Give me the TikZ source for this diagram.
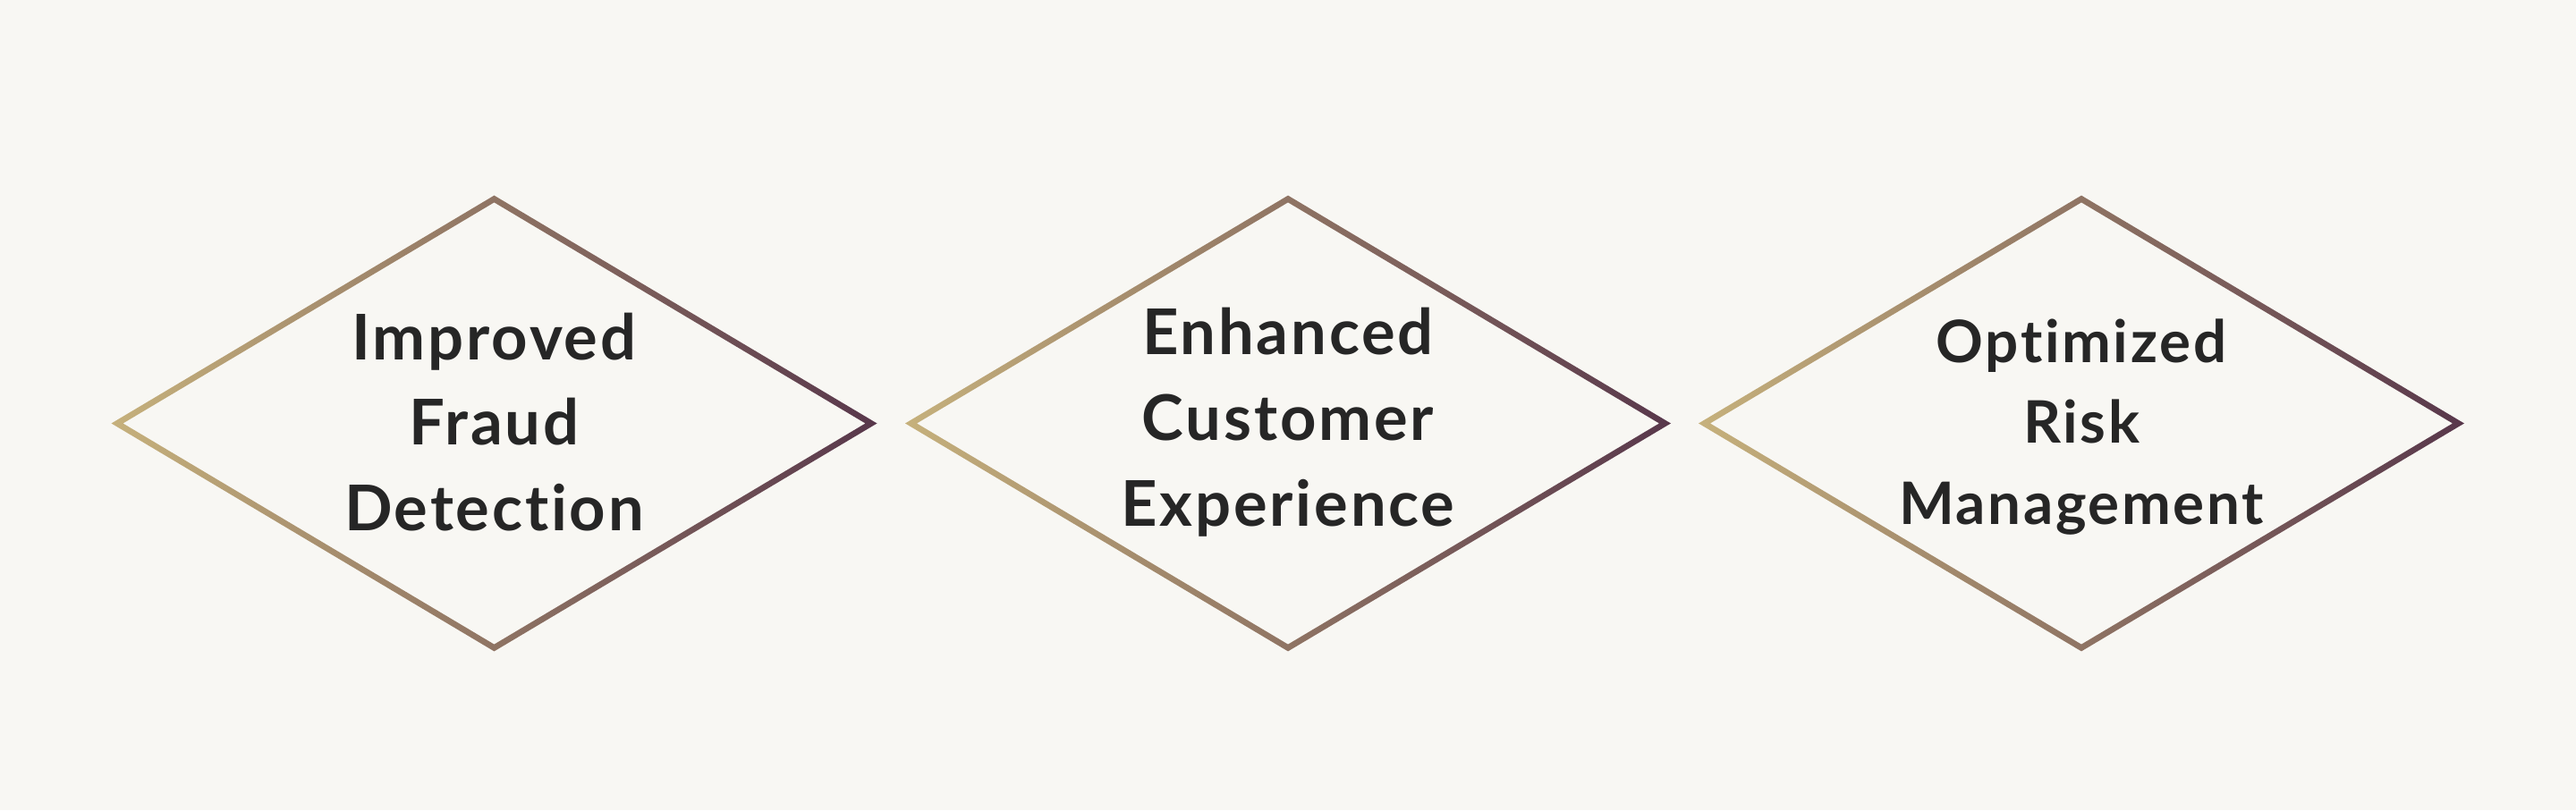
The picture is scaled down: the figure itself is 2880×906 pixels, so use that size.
\documentclass[tikz,border=0pt]{standalone}
\usepackage{fontspec}
\usetikzlibrary{calc}
\setmainfont{Lato}[UprightFont=* Bold, BoldFont=* Black]
\newfontfamily\lblfont{Lato}[UprightFont=* Bold, LetterSpace=4, RawFeature={-liga;-dlig;-clig}]
\definecolor{bgc}{HTML}{F8F7F3}
\definecolor{tanc}{HTML}{C6B17C}
\definecolor{plumc}{HTML}{58374B}
\definecolor{txtc}{HTML}{262626}
\tikzset{
  x=1pt, y=1pt,
  rim/.style={even odd rule, left color=tanc, right color=plumc, shading angle=90},
  lblA/.style={anchor=base, text=txtc, inner sep=0pt, font=\lblfont\fontsize{70.5}{80}\selectfont},
  lblB/.style={anchor=base, text=txtc, inner sep=0pt, font=\lblfont\fontsize{65.5}{75}\selectfont},
}
\begin{document}
\begin{tikzpicture}
\path[fill=bgc] (0,0) rectangle (2880,906);
\useasboundingbox (0,0) rectangle (2880,906);
\coordinate (c1) at (552.5,432.5);
\coordinate (c2) at (1440,432.5);
\coordinate (c3) at (2327,432.5);
\foreach \c in {c1,c2,c3}{
  \shade[rim]
    ($(\c)+(-428,0)$) -- ($(\c)+(0,254.9)$) -- ($(\c)+(428,0)$) -- ($(\c)+(0,-254.9)$) -- cycle
    ($(\c)+(-415,0)$) -- ($(\c)+(0,247.1)$) -- ($(\c)+(415,0)$) -- ($(\c)+(0,-247.1)$) -- cycle;
}
% diamond 1
\node[lblA] (t1a) at (552.5,503) {Improved};
\node[lblA] (t1b) at (552.5,408) {Fraud};
\node[lblA] (t1c) at (552.5,313) {Detection};
% diamond 2
\node[lblA] (t2a) at (1440,509) {Enhanced};
\node[lblA] (t2b) at (1440,413.5) {Customer};
\node[lblA] (t2c) at (1440,318) {Experience};
% diamond 3
\node[lblB] (t3a) at (2327,500) {Optimized};
\node[lblB] (t3b) at (2327,410.3) {Risk};
\node[lblB] (t3c) at (2327,319.3) {Management};
\end{tikzpicture}
\end{document}
